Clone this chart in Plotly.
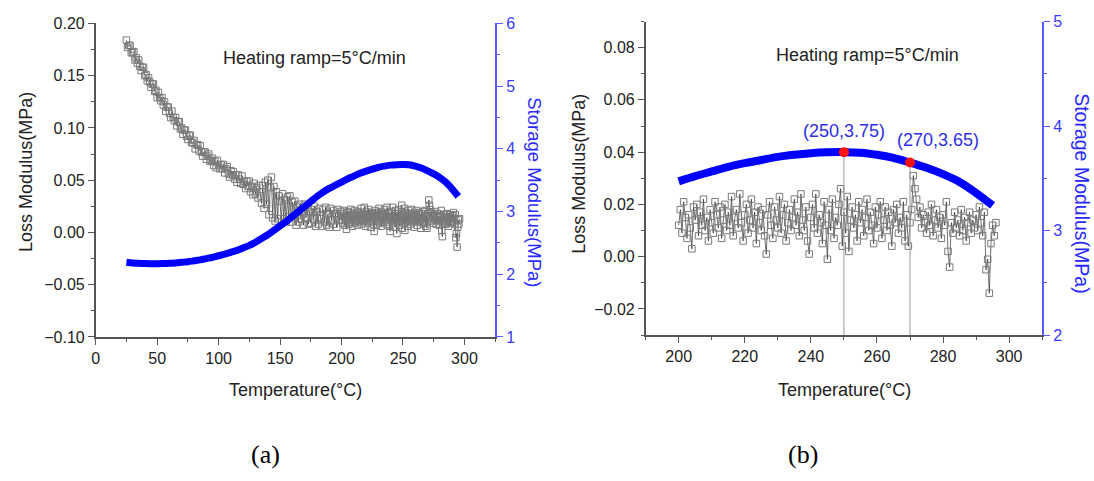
import plotly.graph_objects as go

# ---------------- data ----------------
# Loss modulus, 25-199 C, one reading per 1 C
LOSS_T_COARSE = list(range(25, 200))
LOSS_COARSE = [
    0.184, 0.177, 0.179, 0.179, 0.172, 0.172, 0.173, 0.165, 0.167, 0.162,
    0.165, 0.159, 0.155, 0.158, 0.158, 0.150, 0.151, 0.145, 0.148, 0.144,
    0.139, 0.142, 0.142, 0.135, 0.136, 0.129, 0.134, 0.129, 0.126, 0.129,
    0.122, 0.125, 0.116, 0.120, 0.120, 0.114, 0.110, 0.116, 0.110, 0.107,
    0.110, 0.102, 0.106, 0.106, 0.099, 0.100, 0.094, 0.098, 0.098, 0.092,
    0.089, 0.093, 0.093, 0.086, 0.086, 0.088, 0.080, 0.084, 0.084, 0.078,
    0.083, 0.077, 0.073, 0.077, 0.077, 0.070, 0.073, 0.075, 0.068, 0.069,
    0.071, 0.064, 0.068, 0.062, 0.069, 0.064, 0.061, 0.065, 0.061, 0.065,
    0.057, 0.061, 0.063, 0.056, 0.053, 0.059, 0.055, 0.058, 0.051, 0.055,
    0.048, 0.055, 0.051, 0.047, 0.054, 0.046, 0.049, 0.042, 0.049, 0.044,
    0.049, 0.039, 0.044, 0.036, 0.047, 0.037, 0.043, 0.033, 0.045, 0.035,
    0.028, 0.045, 0.023, 0.048, 0.027, 0.050, 0.017, 0.043, 0.053, 0.014,
    0.044, 0.011, 0.039, 0.013, 0.035, 0.030, 0.010, 0.037, 0.013, 0.031,
    0.010, 0.034, 0.015, 0.035, 0.010, 0.029, 0.015, 0.030, 0.007, 0.025,
    0.010, 0.027, 0.013, 0.023, 0.007, 0.027, 0.014, 0.024, 0.008, 0.020,
    0.009, 0.022, 0.013, 0.025, 0.006, 0.020, 0.008, 0.023, 0.013, 0.006,
    0.022, 0.010, 0.024, 0.007, 0.018, 0.005, 0.023, 0.012, 0.021, 0.008,
    0.018, 0.005, 0.022, 0.012, 0.020,
]
# Loss modulus, 200-296 C, one reading per 0.5 C
LOSS_T_FINE = [200 + 0.5 * i for i in range(193)]
LOSS_FINE = [
    0.012, 0.018, 0.009, 0.021, 0.015, 0.007, 0.016, 0.011, 0.003, 0.019,
    0.014, 0.020, 0.008, 0.017, 0.012, 0.022, 0.010, 0.015, 0.006, 0.018,
    0.013, 0.009, 0.021, 0.016, 0.011, 0.019, 0.007, 0.014, 0.020, 0.010,
    0.017, 0.012, 0.023, 0.008, 0.015, 0.018, 0.011, 0.024, 0.013, 0.006,
    0.016, 0.020, 0.009, 0.014, 0.022, 0.011, 0.017, 0.005, 0.019, 0.013,
    0.010, 0.018, 0.008, 0.001, 0.016, 0.021, 0.012, 0.007, 0.019, 0.014,
    0.011, 0.023, 0.009, 0.016, 0.020, 0.006, 0.013, 0.018, 0.010, 0.015,
    0.022, 0.012, 0.017, 0.008, 0.024, 0.014, 0.010, 0.019, 0.006, 0.001,
    0.015, 0.020, 0.011, 0.024, 0.009, 0.016, 0.013, 0.005, 0.021, 0.012,
    -0.001, 0.018, 0.010, 0.022, 0.007, 0.015, 0.012, 0.020, 0.026, 0.004,
    0.017, 0.009, 0.023, 0.002, 0.014, 0.019, 0.011, 0.016, 0.006, 0.021,
    0.013, 0.018, 0.008, 0.015, 0.022, 0.010, 0.017, 0.012, 0.005, 0.019,
    0.011, 0.016, 0.021, 0.007, 0.014, 0.019, 0.010, 0.017, 0.012, 0.004,
    0.018, 0.013, 0.020, 0.009, 0.015, 0.011, 0.021, 0.006, 0.016, 0.004,
    0.013, 0.018, 0.031, 0.026, 0.022, 0.015, 0.019, 0.011, 0.016, 0.013,
    0.009, 0.017, 0.012, 0.020, 0.008, 0.014, 0.018, 0.011, 0.015, 0.007,
    0.016, 0.012, 0.021, 0.002, -0.004, 0.013, 0.009, 0.017, 0.011, 0.014,
    0.008, 0.018, 0.010, 0.015, 0.006, 0.013, 0.017, 0.009, 0.014, 0.011,
    0.016, 0.010, 0.019, 0.013, 0.008, 0.017, -0.005, -0.001, -0.014, 0.005,
    0.012, 0.008, 0.013,
]
# Storage modulus every 5 C
STOR_T = list(range(25, 300, 5))
STORAGE = [
    2.19, 2.18, 2.175, 2.17, 2.168, 2.168, 2.17, 2.175, 2.18, 2.19,
    2.20, 2.215, 2.23, 2.25, 2.27, 2.295, 2.32, 2.35, 2.38, 2.42,
    2.46, 2.51, 2.57, 2.63, 2.70, 2.77, 2.84, 2.92, 3.00, 3.08,
    3.16, 3.24, 3.31, 3.37, 3.42, 3.47, 3.52, 3.565, 3.61, 3.645,
    3.675, 3.705, 3.725, 3.74, 3.748, 3.75, 3.745, 3.725, 3.695, 3.65,
    3.60, 3.54, 3.465, 3.36, 3.24,
]
MARK_T = [250, 270]
MARK_S = [3.75, 3.65]
MARK_LABELS = ["(250,3.75)", "(270,3.65)"]

assert len(LOSS_T_COARSE) == len(LOSS_COARSE)
assert len(LOSS_T_FINE) == len(LOSS_FINE)
assert len(STOR_T) == len(STORAGE)

LOSS_T = LOSS_T_COARSE + LOSS_T_FINE
LOSS = LOSS_COARSE + LOSS_FINE

B_MIN = 200
loss_tb = [t for t in LOSS_T if t >= B_MIN]
loss_b = [v for t, v in zip(LOSS_T, LOSS) if t >= B_MIN]
stor_tb = [t for t in STOR_T if t >= B_MIN]
stor_b = [v for t, v in zip(STOR_T, STORAGE) if t >= B_MIN]

# ---------------- styling ----------------
FONT = "Liberation Sans, Arial, sans-serif"
AX = "#555555"
BLUE = "#0000ff"
AXBLUE = "#5a5aff"
TXT = "#222222"
W, H = 1094, 481

def px2x(p):
    return p / W

def px2y(p):
    return 1 - p / H

fig = go.Figure()

loss_style = dict(
    mode="lines+markers",
    line=dict(color="#111111", width=0.6),
    marker=dict(symbol="square-open", size=6.5, color="#7a7a7a", line=dict(width=1, color="#7a7a7a")),
    showlegend=False,
)

# panel (a)
fig.add_trace(go.Scatter(x=LOSS_T, y=LOSS, xaxis="x", yaxis="y", **loss_style))
fig.add_trace(go.Scatter(x=STOR_T, y=STORAGE, xaxis="x", yaxis="y2", mode="lines",
                         line=dict(color=BLUE, width=7, shape="spline"), showlegend=False))

# panel (b)
fig.add_trace(go.Scatter(x=loss_tb, y=loss_b, xaxis="x2", yaxis="y3", **loss_style))
fig.add_trace(go.Scatter(x=stor_tb, y=stor_b, xaxis="x2", yaxis="y4", mode="lines",
                         line=dict(color=BLUE, width=8, shape="spline"), showlegend=False))
drop_x, drop_y = [], []
for t, s in zip(MARK_T, MARK_S):
    drop_x += [t, t, None]
    drop_y += [s, 2, None]
fig.add_trace(go.Scatter(x=drop_x, y=drop_y, xaxis="x2", yaxis="y4", mode="lines",
                         line=dict(color="#999999", width=1), showlegend=False))
fig.add_trace(go.Scatter(x=MARK_T, y=MARK_S, xaxis="x2", yaxis="y4", mode="markers",
                         marker=dict(color="#ff1010", size=10), showlegend=False))

tickfont = dict(family=FONT, size=16, color=TXT)
bluefont = dict(family=FONT, size=16, color="#3a3aff")

dom_ax = [px2x(92), px2x(493)]
dom_ay = [px2y(341), px2y(16)]
dom_bx = [px2x(644), px2x(1042)]
dom_by = [px2y(339), px2y(14)]

common_x = dict(showline=True, linecolor=AX, linewidth=1.5, ticks="outside", ticklen=6,
                tickcolor=AX, tickwidth=1.2, showgrid=False, zeroline=False, tickfont=tickfont)
common_top = dict(showline=True, linecolor=AX, linewidth=1.5, ticks="inside", ticklen=6,
                  tickcolor=AX, tickwidth=1.2, showgrid=False, zeroline=False, showticklabels=False)

fig.update_layout(
    width=W, height=H,
    margin=dict(l=0, r=0, t=0, b=0),
    paper_bgcolor="white", plot_bgcolor="white",
    showlegend=False,
    xaxis=dict(domain=dom_ax, anchor="y", range=[0, 325], dtick=50, tick0=0,
               minor=dict(dtick=25, ticks="outside", ticklen=3, tickcolor=AX), **common_x),
    xaxis3=dict(overlaying="x", anchor="y", side="top", range=[0, 325], dtick=50, tick0=0,
                minor=dict(dtick=25, ticks="inside", ticklen=3, tickcolor=AX), **common_top),
    yaxis=dict(domain=dom_ay, anchor="x", range=[-0.10, 0.20], dtick=0.05, tick0=0,
               tickformat=".2f", minor=dict(dtick=0.025, ticks="outside", ticklen=3, tickcolor=AX),
               **common_x),
    yaxis2=dict(overlaying="y", anchor="x", side="right", range=[1, 6], dtick=1, tick0=0,
                showline=True, linecolor=AXBLUE, linewidth=1.5, ticks="outside", ticklen=6,
                tickcolor=AXBLUE, showgrid=False, zeroline=False, tickfont=bluefont,
                minor=dict(dtick=0.5, ticks="outside", ticklen=3, tickcolor=AXBLUE)),
    xaxis2=dict(domain=dom_bx, anchor="y3", range=[190, 310], dtick=20, tick0=0,
                minor=dict(dtick=10, ticks="outside", ticklen=3, tickcolor=AX), **common_x),
    xaxis4=dict(overlaying="x2", anchor="y3", side="top", range=[190, 310], dtick=20, tick0=0,
                minor=dict(dtick=10, ticks="inside", ticklen=3, tickcolor=AX), **common_top),
    yaxis3=dict(domain=dom_by, anchor="x2", range=[-0.03, 0.09], dtick=0.02, tick0=0,
                tickformat=".2f", minor=dict(dtick=0.01, ticks="outside", ticklen=3, tickcolor=AX),
                **common_x),
    yaxis4=dict(overlaying="y3", anchor="x2", side="right", range=[2, 5], dtick=1, tick0=0,
                showline=True, linecolor=AXBLUE, linewidth=1.5, ticks="outside", ticklen=6,
                tickcolor=AXBLUE, showgrid=False, zeroline=False, tickfont=bluefont,
                minor=dict(dtick=0.5, ticks="outside", ticklen=3, tickcolor=AXBLUE)),
)

ann = []
def paper_text(text, xp, yp, size, color=TXT, angle=0, family=FONT):
    ann.append(dict(text=text, x=px2x(xp), y=px2y(yp), xref="paper", yref="paper",
                    showarrow=False, textangle=angle, xanchor="center", yanchor="middle",
                    font=dict(family=family, size=size, color=color)))

paper_text("Loss Modulus(MPa)", 22, 170, 18, angle=-90)
paper_text("Storage Modulus(MPa)", 533, 191, 18.5, color="#2a2aff", angle=90)
paper_text("Temperature(°C)", 293, 396, 18)
paper_text("Heating ramp=5°C/min", 312, 52, 18)

paper_text("Loss Modulus(MPa)", 577, 172, 18, angle=-90)
paper_text("Storage Modulus(MPa)", 1082, 192, 19.5, color="#2a2aff", angle=90)
paper_text("Temperature(°C)", 844, 396, 18)
paper_text("Heating ramp=5°C/min", 867, 49, 18)

paper_text("(a)", 262, 463, 26, color="black", family="Liberation Serif, Times New Roman, serif")
paper_text("(b)", 802, 463, 26, color="black", family="Liberation Serif, Times New Roman, serif")

shifts = [(0, 21), (28, 23)]
for (t, s, lab), (dx, dy) in zip(zip(MARK_T, MARK_S, MARK_LABELS), shifts):
    ann.append(dict(text=lab, x=t, y=s, xref="x2", yref="y4", showarrow=False,
                    xshift=dx, yshift=dy, xanchor="center", yanchor="middle",
                    font=dict(family=FONT, size=18, color="#2e2ee6")))

fig.update_layout(annotations=ann)
fig.write_html("out.html")
